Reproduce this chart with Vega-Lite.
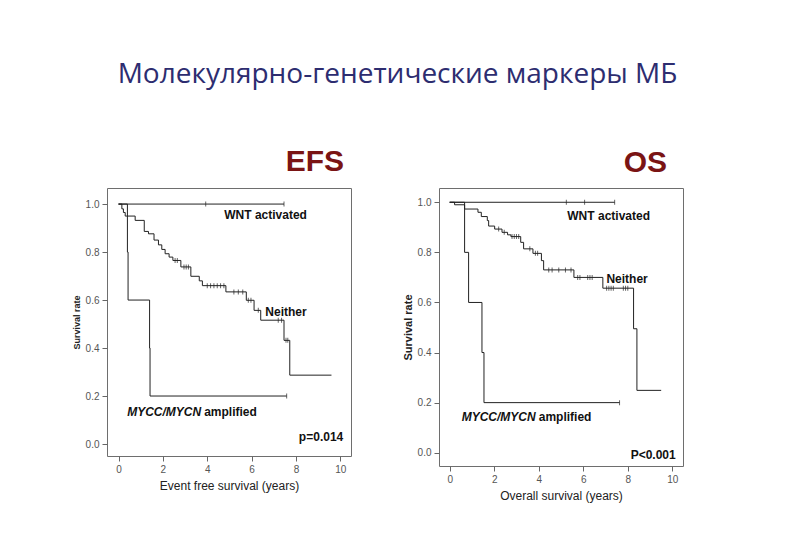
{
  "$schema": "https://vega.github.io/schema/vega-lite/v6.json",
  "background": "white",
  "padding": {"left": 71, "top": 60, "right": 5, "bottom": 5},
  "title": {
    "text": "Молекулярно-генетические маркеры МБ",
    "font": "Open Sans",
    "fontSize": 28,
    "fontWeight": "normal",
    "color": "#2d2d70",
    "anchor": "middle",
    "offset": 57.5,
    "dx": 20
  },
  "datasets": {
    "curves": [
      {"panel": "EFS", "group": "WNT", "t": 0, "s": 1},
      {"panel": "EFS", "group": "WNT", "t": 7.46, "s": 1},
      {"panel": "EFS", "group": "Neither", "t": 0, "s": 1},
      {"panel": "EFS", "group": "Neither", "t": 0.15, "s": 0.98},
      {"panel": "EFS", "group": "Neither", "t": 0.22, "s": 0.965},
      {"panel": "EFS", "group": "Neither", "t": 0.3, "s": 0.95},
      {"panel": "EFS", "group": "Neither", "t": 0.75, "s": 0.932},
      {"panel": "EFS", "group": "Neither", "t": 1.16, "s": 0.886},
      {"panel": "EFS", "group": "Neither", "t": 1.35, "s": 0.876},
      {"panel": "EFS", "group": "Neither", "t": 1.6, "s": 0.85},
      {"panel": "EFS", "group": "Neither", "t": 1.8, "s": 0.83},
      {"panel": "EFS", "group": "Neither", "t": 1.95, "s": 0.811},
      {"panel": "EFS", "group": "Neither", "t": 2.1, "s": 0.793},
      {"panel": "EFS", "group": "Neither", "t": 2.28, "s": 0.779},
      {"panel": "EFS", "group": "Neither", "t": 2.45, "s": 0.765},
      {"panel": "EFS", "group": "Neither", "t": 2.81, "s": 0.738},
      {"panel": "EFS", "group": "Neither", "t": 3.26, "s": 0.699},
      {"panel": "EFS", "group": "Neither", "t": 3.64, "s": 0.68},
      {"panel": "EFS", "group": "Neither", "t": 3.78, "s": 0.66},
      {"panel": "EFS", "group": "Neither", "t": 4.84, "s": 0.634},
      {"panel": "EFS", "group": "Neither", "t": 5.76, "s": 0.599},
      {"panel": "EFS", "group": "Neither", "t": 6.11, "s": 0.557},
      {"panel": "EFS", "group": "Neither", "t": 6.41, "s": 0.516},
      {"panel": "EFS", "group": "Neither", "t": 7.46, "s": 0.432},
      {"panel": "EFS", "group": "Neither", "t": 7.72, "s": 0.287},
      {"panel": "EFS", "group": "Neither", "t": 9.6, "s": 0.287},
      {"panel": "EFS", "group": "MYCC", "t": 0, "s": 1},
      {"panel": "EFS", "group": "MYCC", "t": 0.4, "s": 0.8},
      {"panel": "EFS", "group": "MYCC", "t": 0.43, "s": 0.6},
      {"panel": "EFS", "group": "MYCC", "t": 1.4, "s": 0.4},
      {"panel": "EFS", "group": "MYCC", "t": 1.42, "s": 0.2},
      {"panel": "EFS", "group": "MYCC", "t": 7.58, "s": 0.2},
      {"panel": "OS", "group": "WNT", "t": 0, "s": 1},
      {"panel": "OS", "group": "WNT", "t": 7.41, "s": 1},
      {"panel": "OS", "group": "Neither", "t": 0, "s": 1},
      {"panel": "OS", "group": "Neither", "t": 0.22, "s": 0.99},
      {"panel": "OS", "group": "Neither", "t": 0.67, "s": 0.973},
      {"panel": "OS", "group": "Neither", "t": 1.27, "s": 0.96},
      {"panel": "OS", "group": "Neither", "t": 1.42, "s": 0.943},
      {"panel": "OS", "group": "Neither", "t": 1.69, "s": 0.927},
      {"panel": "OS", "group": "Neither", "t": 1.75, "s": 0.905},
      {"panel": "OS", "group": "Neither", "t": 2.02, "s": 0.893},
      {"panel": "OS", "group": "Neither", "t": 2.35, "s": 0.88},
      {"panel": "OS", "group": "Neither", "t": 2.6, "s": 0.87},
      {"panel": "OS", "group": "Neither", "t": 2.75, "s": 0.863},
      {"panel": "OS", "group": "Neither", "t": 3.19, "s": 0.84},
      {"panel": "OS", "group": "Neither", "t": 3.32, "s": 0.814},
      {"panel": "OS", "group": "Neither", "t": 3.74, "s": 0.796},
      {"panel": "OS", "group": "Neither", "t": 4.12, "s": 0.767},
      {"panel": "OS", "group": "Neither", "t": 4.22, "s": 0.73},
      {"panel": "OS", "group": "Neither", "t": 5.58, "s": 0.7},
      {"panel": "OS", "group": "Neither", "t": 6.88, "s": 0.657},
      {"panel": "OS", "group": "Neither", "t": 8.26, "s": 0.495},
      {"panel": "OS", "group": "Neither", "t": 8.41, "s": 0.249},
      {"panel": "OS", "group": "Neither", "t": 9.5, "s": 0.249},
      {"panel": "OS", "group": "MYCC", "t": 0, "s": 1},
      {"panel": "OS", "group": "MYCC", "t": 0.67, "s": 0.8},
      {"panel": "OS", "group": "MYCC", "t": 0.85, "s": 0.6},
      {"panel": "OS", "group": "MYCC", "t": 1.45, "s": 0.4},
      {"panel": "OS", "group": "MYCC", "t": 1.54, "s": 0.2},
      {"panel": "OS", "group": "MYCC", "t": 7.63, "s": 0.2}
    ],
    "censors": [
      {"panel": "EFS", "t": 3.93, "s": 1},
      {"panel": "EFS", "t": 7.46, "s": 1},
      {"panel": "EFS", "t": 2.55, "s": 0.765},
      {"panel": "EFS", "t": 2.65, "s": 0.765},
      {"panel": "EFS", "t": 2.95, "s": 0.738},
      {"panel": "EFS", "t": 3.05, "s": 0.738},
      {"panel": "EFS", "t": 3.15, "s": 0.738},
      {"panel": "EFS", "t": 4.0, "s": 0.66},
      {"panel": "EFS", "t": 4.15, "s": 0.66},
      {"panel": "EFS", "t": 4.3, "s": 0.66},
      {"panel": "EFS", "t": 4.45, "s": 0.66},
      {"panel": "EFS", "t": 4.6, "s": 0.66},
      {"panel": "EFS", "t": 4.75, "s": 0.66},
      {"panel": "EFS", "t": 5.2, "s": 0.634},
      {"panel": "EFS", "t": 5.4, "s": 0.634},
      {"panel": "EFS", "t": 5.6, "s": 0.634},
      {"panel": "EFS", "t": 5.85, "s": 0.599},
      {"panel": "EFS", "t": 5.97, "s": 0.599},
      {"panel": "EFS", "t": 6.3, "s": 0.557},
      {"panel": "EFS", "t": 7.2, "s": 0.516},
      {"panel": "EFS", "t": 7.35, "s": 0.516},
      {"panel": "EFS", "t": 7.55, "s": 0.432},
      {"panel": "EFS", "t": 7.63, "s": 0.432},
      {"panel": "EFS", "t": 7.58, "s": 0.2},
      {"panel": "OS", "t": 5.24, "s": 1},
      {"panel": "OS", "t": 6.06, "s": 1},
      {"panel": "OS", "t": 7.41, "s": 1},
      {"panel": "OS", "t": 2.2, "s": 0.893},
      {"panel": "OS", "t": 2.45, "s": 0.88},
      {"panel": "OS", "t": 2.8, "s": 0.863},
      {"panel": "OS", "t": 2.9, "s": 0.863},
      {"panel": "OS", "t": 3.0, "s": 0.863},
      {"panel": "OS", "t": 3.1, "s": 0.863},
      {"panel": "OS", "t": 3.6, "s": 0.814},
      {"panel": "OS", "t": 3.85, "s": 0.796},
      {"panel": "OS", "t": 3.95, "s": 0.796},
      {"panel": "OS", "t": 4.45, "s": 0.73},
      {"panel": "OS", "t": 4.6, "s": 0.73},
      {"panel": "OS", "t": 4.9, "s": 0.73},
      {"panel": "OS", "t": 5.2, "s": 0.73},
      {"panel": "OS", "t": 5.45, "s": 0.73},
      {"panel": "OS", "t": 5.75, "s": 0.7},
      {"panel": "OS", "t": 5.85, "s": 0.7},
      {"panel": "OS", "t": 6.2, "s": 0.7},
      {"panel": "OS", "t": 6.3, "s": 0.7},
      {"panel": "OS", "t": 6.4, "s": 0.7},
      {"panel": "OS", "t": 7.05, "s": 0.657},
      {"panel": "OS", "t": 7.15, "s": 0.657},
      {"panel": "OS", "t": 7.25, "s": 0.657},
      {"panel": "OS", "t": 7.35, "s": 0.657},
      {"panel": "OS", "t": 7.8, "s": 0.657},
      {"panel": "OS", "t": 7.9, "s": 0.657},
      {"panel": "OS", "t": 8.0, "s": 0.657},
      {"panel": "OS", "t": 7.63, "s": 0.2}
    ],
    "labels": [
      {"panel": "EFS", "t": 6.63, "s": 0.954, "label": "WNT activated"},
      {"panel": "EFS", "t": 7.55, "s": 0.55, "label": "Neither"},
      {"panel": "EFS", "t": 9.13, "s": 0.029, "label": "p=0.014"},
      {"panel": "OS", "t": 7.14, "s": 0.945, "label": "WNT activated"},
      {"panel": "OS", "t": 7.97, "s": 0.694, "label": "Neither"},
      {"panel": "OS", "t": 9.14, "s": -0.008, "label": "P<0.001"}
    ],
    "amp": [
      {"panel": "EFS", "t": 0.39, "s": 0.133, "gene": "MYCC/MYCN", "rest": "amplified"},
      {"panel": "OS", "t": 0.54, "s": 0.144, "gene": "MYCC/MYCN", "rest": "amplified"}
    ]
  },
  "hconcat": [
    {
      "width": 244,
      "height": 268,
      "title": {"text": "EFS", "anchor": "end", "fontSize": 30, "font": "Liberation Sans", "fontWeight": "bold", "color": "#7a1414", "offset": 11.5, "dx": -7},
      "layer": [
        {
          "data": {"name": "curves"},
          "transform": [{"filter": "datum.panel === 'EFS'"}],
          "mark": {"type": "line", "interpolate": "step-after", "color": "#222", "strokeWidth": 1},
          "encoding": {
            "x": {"field": "t", "type": "quantitative", "scale": {"domain": [-0.52, 10.48], "nice": false, "zero": false},
              "axis": {"title": "Event free survival (years)", "values": [0, 2, 4, 6, 8, 10], "format": "d"}},
            "y": {"field": "s", "type": "quantitative", "scale": {"domain": [-0.05, 1.067], "nice": false, "zero": false},
              "axis": {"title": "Survival rate", "values": [0, 0.2, 0.4, 0.6, 0.8, 1], "format": ".1f", "titleFontSize": 9}},
            "detail": {"field": "group"}
          }
        },
        {
          "data": {"name": "censors"},
          "transform": [{"filter": "datum.panel === 'EFS'"}],
          "mark": {"type": "tick", "orient": "vertical", "size": 5, "thickness": 1, "color": "#222"},
          "encoding": {
            "x": {"field": "t", "type": "quantitative"},
            "y": {"field": "s", "type": "quantitative"}
          }
        },
        {
          "data": {"name": "labels"},
          "transform": [{"filter": "datum.panel === 'EFS'"}],
          "mark": {"type": "text", "font": "Liberation Sans", "fontSize": 12, "fontWeight": "bold", "align": "center", "baseline": "middle", "color": "#111"},
          "encoding": {
            "x": {"field": "t", "type": "quantitative"},
            "y": {"field": "s", "type": "quantitative"},
            "text": {"field": "label"}
          }
        },
        {
          "data": {"name": "amp"},
          "transform": [{"filter": "datum.panel === 'EFS'"}],
          "mark": {"type": "text", "font": "Liberation Sans", "fontSize": 12, "fontWeight": "bold", "fontStyle": "italic", "align": "left", "baseline": "middle", "color": "#111"},
          "encoding": {
            "x": {"field": "t", "type": "quantitative"},
            "y": {"field": "s", "type": "quantitative"},
            "text": {"field": "gene"}
          }
        },
        {
          "data": {"name": "amp"},
          "transform": [{"filter": "datum.panel === 'EFS'"}],
          "mark": {"type": "text", "font": "Liberation Sans", "fontSize": 12, "fontWeight": "bold", "align": "left", "baseline": "middle", "color": "#111", "dx": 77},
          "encoding": {
            "x": {"field": "t", "type": "quantitative"},
            "y": {"field": "s", "type": "quantitative"},
            "text": {"field": "rest"}
          }
        }
      ]
    },
    {
      "width": 244,
      "height": 278,
      "title": {"text": "OS", "anchor": "end", "fontSize": 30, "font": "Liberation Sans", "fontWeight": "bold", "color": "#7a1414", "offset": 10, "dx": -16},
      "layer": [
        {
          "data": {"name": "curves"},
          "transform": [{"filter": "datum.panel === 'OS'"}],
          "mark": {"type": "line", "interpolate": "step-after", "color": "#222", "strokeWidth": 1},
          "encoding": {
            "x": {"field": "t", "type": "quantitative", "scale": {"domain": [-0.48, 10.48], "nice": false, "zero": false},
              "axis": {"title": "Overall survival (years)", "values": [0, 2, 4, 6, 8, 10], "format": "d"}},
            "y": {"field": "s", "type": "quantitative", "scale": {"domain": [-0.053, 1.057], "nice": false, "zero": false},
              "axis": {"title": "Survival rate", "values": [0, 0.2, 0.4, 0.6, 0.8, 1], "format": ".1f", "titleFontSize": 11}},
            "detail": {"field": "group"}
          }
        },
        {
          "data": {"name": "censors"},
          "transform": [{"filter": "datum.panel === 'OS'"}],
          "mark": {"type": "tick", "orient": "vertical", "size": 5, "thickness": 1, "color": "#222"},
          "encoding": {
            "x": {"field": "t", "type": "quantitative"},
            "y": {"field": "s", "type": "quantitative"}
          }
        },
        {
          "data": {"name": "labels"},
          "transform": [{"filter": "datum.panel === 'OS'"}],
          "mark": {"type": "text", "font": "Liberation Sans", "fontSize": 12, "fontWeight": "bold", "align": "center", "baseline": "middle", "color": "#111"},
          "encoding": {
            "x": {"field": "t", "type": "quantitative"},
            "y": {"field": "s", "type": "quantitative"},
            "text": {"field": "label"}
          }
        },
        {
          "data": {"name": "amp"},
          "transform": [{"filter": "datum.panel === 'OS'"}],
          "mark": {"type": "text", "font": "Liberation Sans", "fontSize": 12, "fontWeight": "bold", "fontStyle": "italic", "align": "left", "baseline": "middle", "color": "#111"},
          "encoding": {
            "x": {"field": "t", "type": "quantitative"},
            "y": {"field": "s", "type": "quantitative"},
            "text": {"field": "gene"}
          }
        },
        {
          "data": {"name": "amp"},
          "transform": [{"filter": "datum.panel === 'OS'"}],
          "mark": {"type": "text", "font": "Liberation Sans", "fontSize": 12, "fontWeight": "bold", "align": "left", "baseline": "middle", "color": "#111", "dx": 77},
          "encoding": {
            "x": {"field": "t", "type": "quantitative"},
            "y": {"field": "s", "type": "quantitative"},
            "text": {"field": "rest"}
          }
        }
      ]
    }
  ],
  "spacing": 49,
  "config": {
    "view": {"stroke": "#6e6e6e", "strokeWidth": 1},
    "axis": {
      "domain": false,
      "grid": false,
      "ticks": true,
      "tickSize": 5,
      "tickColor": "#666",
      "labelColor": "#555",
      "labelFont": "Liberation Sans",
      "labelFontSize": 10,
      "labelPadding": 3,
      "titleFont": "Liberation Sans",
      "titleColor": "#222"
    },
    "axisX": {"titleFontSize": 12, "titleFontWeight": "normal", "titlePadding": 6},
    "axisY": {"titleFontWeight": "bold", "titlePadding": 4}
  }
}
